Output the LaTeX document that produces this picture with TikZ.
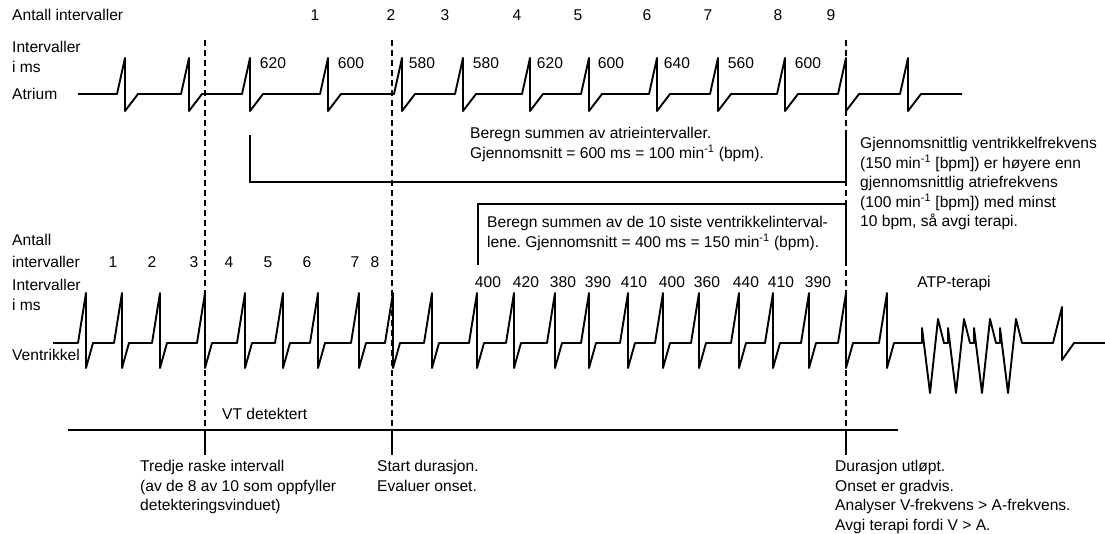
\documentclass[tikz,border=0pt]{standalone}
\usepackage{fontspec}
\setmainfont{Liberation Sans}
\usetikzlibrary{positioning}
\frenchspacing
\newcommand{\txtfont}{\fontsize{15.6}{19.5}\selectfont}
\newcommand{\permin}{min\textsuperscript{-1}}

\begin{document}
\begin{tikzpicture}[
  x=1pt, y=-1pt,
  ecg/.style      = {line width=1.9pt, line join=round},
  dashmark/.style = {line width=1.2pt, dash pattern=on 6pt off 4pt},
  bracket/.style  = {line width=1.1pt},
  lbl/.style      = {inner sep=0pt, anchor=west, font=\txtfont},
  num/.style      = {inner sep=0pt, font=\txtfont},
  blk/.style      = {inner sep=0pt, anchor=north west, align=left, font=\txtfont},
]
\useasboundingbox (0,0) rectangle (1105,533);

% ── Atrium strip ─────────────────────────────────────────────────────────────
\node[lbl] (antA) at (12,15) {Antall intervaller};
\node[blk] (imsA) at (12,41) {Intervaller\\i ms};
\node[lbl] (atr)  at (12,94) {Atrium};

\foreach \n/\x in {1/315, 2/391, 3/445, 4/517, 5/578, 6/647, 7/708, 8/778, 9/831}
  \node[num] (an\n) at (\x,15) {\n};

\foreach \v/\x [count=\k] in {620/273, 600/351, 580/422, 580/486, 620/550,
                               600/611, 640/677, 560/741, 600/808}
  \node[num] (ai\k) at (\x,63) {\v};

\draw[ecg] (78,94)
  \foreach \p in {125,189,250,328,402,463,530,589,657,718,785,846,908}
    { -- (\p-8,94) -- (\p,58) -- (\p,111) -- (\p+13,94) }
  -- (962,94);

% ── Atrial average bracket ───────────────────────────────────────────────────
\coordinate (abTL) at (250,135);
\coordinate (abBL) at (250,182);
\coordinate (abBR) at (846,182);
\coordinate (abTR) at (846,135);
\draw[bracket] (abTL) -- (abBL) -- (abBR) -- (abTR);
\node[blk] (abtxt) at (470,127)
  {Beregn summen av atrieintervaller.\\Gjennomsnitt = 600 ms = 100 \permin{} (bpm).};

\node[blk] (cmp) at (860,137)
  {Gjennomsnittlig ventrikkelfrekvens\\(150 \permin{} [bpm]) er høyere enn\\
   gjennomsnittlig atriefrekvens\\(100 \permin{} [bpm]) med minst\\10 bpm, så avgi terapi.};

% ── Ventricle average box ────────────────────────────────────────────────────
\coordinate (vbBL) at (478,265);
\coordinate (vbTL) at (478,204);
\coordinate (vbTR) at (846,204);
\coordinate (vbBR) at (846,262);
\draw[bracket] (vbBL) -- (vbTL) -- (vbTR) -- (vbBR);
\node[blk] (vbtxt) at (487,216)
  {Beregn summen av de 10 siste ventrikkelinterval-\\lene. Gjennomsnitt = 400 ms = 150 \permin{} (bpm).};

% ── Ventricle strip ──────────────────────────────────────────────────────────
\node[blk] (antV) at (12,234) {Antall\\[2pt]intervaller};
\node[blk] (imsV) at (12,279) {Intervaller\\i ms};
\node[lbl] (ven)  at (12,355) {Ventrikkel};

\foreach \n/\x in {1/113, 2/152, 3/194, 4/229, 5/268, 6/307, 7/355, 8/375}
  \node[num] (vn\n) at (\x,262) {\n};

\foreach \v/\x [count=\k] in {400/488, 420/526, 380/563, 390/598, 410/634,
                               400/672, 360/707, 440/746, 410/781, 390/818}
  \node[num] (vi\k) at (\x,282) {\v};

\node[num] (atp) at (954,283) {ATP-terapi};

\draw[ecg] (53,343)
  \foreach \p in {86,122,160,205,245,283,318,359,393,432,477,514,555,589,628,
                  663,699,739,773,809,846,887}
    { -- (\p-8,343) -- (\p,293) -- (\p,368) -- (\p+7,343) }
  -- (922,343)
  \foreach \s in {922,948,974,1000}
    { -- (\s,343) -- (\s,328) -- (\s+8,393) -- (\s+16,319) -- (\s+22,343) }
  -- (1053,343) -- (1062,307) -- (1062,360) -- (1074,343) -- (1105,343);

% ── Event markers and VT line ────────────────────────────────────────────────
\foreach \x [count=\k] in {205,392,846} {
  \coordinate (mt\k) at (\x,40);
  \coordinate (mv\k) at (\x,430);
  \coordinate (mb\k) at (\x,455);
  \draw[dashmark] (mt\k) -- (mv\k);
  \draw[bracket]  (mv\k) -- (mb\k);
}
\coordinate (vtL) at (68,430);
\coordinate (vtR) at (898,430);
\draw[bracket] (vtL) -- (vtR);
\node[lbl] (vt) at (222,414) {VT detektert};

\node[blk] (ev1) at (140,460)
  {Tredje raske intervall\\(av de 8 av 10 som oppfyller\\detekteringsvinduet)};
\node[blk] (ev2) at (377,460) {Start durasjon.\\Evaluer onset.};
\node[blk] (ev3) at (835,460)
  {Durasjon utløpt.\\Onset er gradvis.\\Analyser V-frekvens > A-frekvens.\\Avgi terapi fordi V > A.};
\end{tikzpicture}
\end{document}
